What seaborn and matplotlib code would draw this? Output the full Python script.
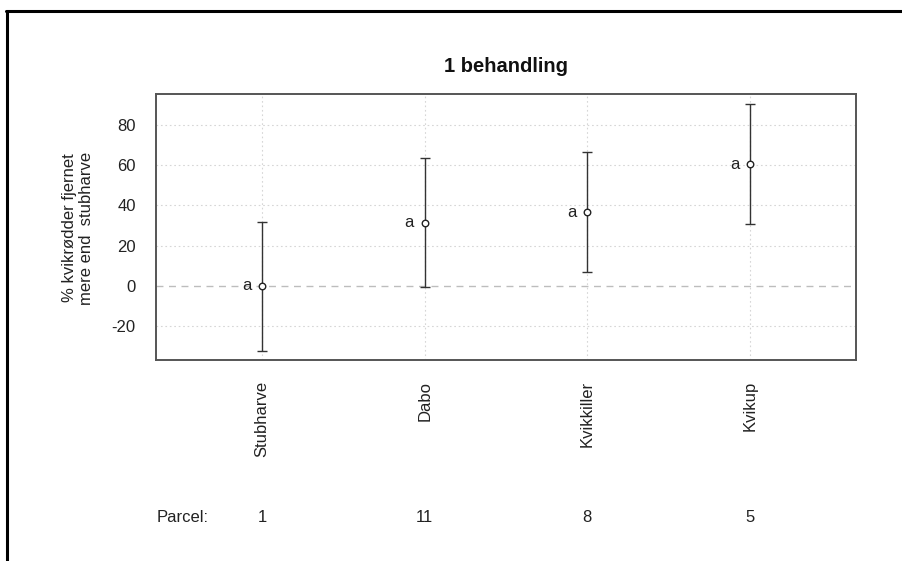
import matplotlib
matplotlib.use("Agg")
import numpy as np
import pandas as pd
import matplotlib.pyplot as plt
import matplotlib.transforms as mtransforms
from matplotlib.lines import Line2D
import seaborn as sns

# values
treatments = ["Stubharve", "Dabo", "Kvikkiller", "Kvikup"]
means = [0.0, 31.4, 36.6, 60.6]
lower = [-32.2, -0.5, 6.9, 30.8]
upper = [31.8, 63.5, 66.7, 90.4]
letters = ["a", "a", "a", "a"]
parcels = ["1", "11", "8", "5"]
yticks = [-20, 0, 20, 40, 60, 80]

df = pd.DataFrame({"treatment": treatments, "mean": means, "lo": lower, "hi": upper})

sns.set_style("white")
plt.rcParams["font.family"] = ["Liberation Sans", "DejaVu Sans"]
fs = 12

fig = plt.figure(figsize=(9.02, 5.61), dpi=100)
ax = fig.add_axes([156 / 902, 1 - 360 / 561, 700 / 902, 266 / 561])

xs = np.arange(len(treatments))

# grid first so it sits underneath
for y in yticks:
    if y != 0:
        ax.axhline(y, color="#d6d6d6", lw=0.8, ls=(0, (1.5, 2.5)), zorder=0)
for x in xs:
    ax.axvline(x, color="#d6d6d6", lw=0.8, ls=(0, (1.5, 2.5)), zorder=0)
ax.axhline(0, color="#bdbdbd", lw=1.0, ls=(0, (5, 4)), zorder=0)

ax.errorbar(xs, df["mean"], yerr=[df["mean"] - df["lo"], df["hi"] - df["mean"]],
            fmt="none", ecolor="#333333", elinewidth=1.0, capsize=3.6, capthick=1.0, zorder=2)
sns.scatterplot(data=df, x="treatment", y="mean", ax=ax, marker="o", s=22,
                facecolor="white", edgecolor="#222222", linewidth=1.0, zorder=3)

for x, m, l in zip(xs, means, letters):
    ax.annotate(l, (x, m), xytext=(-11, 0), textcoords="offset points",
                ha="center", va="center", fontsize=fs, color="#222222")

ax.set_xlim(-0.651, 3.651)
ax.set_ylim(-36.8, 95.4)
ax.set_yticks(yticks)
ax.set_yticklabels([str(v) for v in yticks])
ax.set_xticks(xs)
ax.set_xticklabels(treatments, rotation=90, va="top")
ax.set_xlabel("")
ax.set_ylabel("")
ax.tick_params(axis="both", direction="out", length=5, width=1.0, color="#444444",
               labelcolor="#222222", labelsize=fs)
ax.tick_params(axis="y", pad=9.5)
ax.tick_params(axis="x", pad=10)

for sp in ax.spines.values():
    sp.set_visible(True)
    sp.set_color("#555555")
    sp.set_linewidth(1.4)

ax.set_title("1 behandling", fontsize=14.5, fontweight="bold", pad=16, color="#111111")

fig.text(78 / 902, 1 - 228 / 561, "% kvikrødder fjernet\nmere end  stubharve",
         rotation=90, ha="center", va="center", fontsize=fs, color="#222222",
         multialignment="center", linespacing=1.1)

# parcel row under the axis
trans = mtransforms.blended_transform_factory(ax.transData, fig.transFigure)
ypar = 1 - 517 / 561
ax.text(-0.49, ypar, "Parcel:", transform=trans, ha="center", va="center",
        fontsize=fs, color="#222222")
for x, p in zip(xs, parcels):
    ax.text(x, ypar, p, transform=trans, ha="center", va="center",
            fontsize=fs, color="#222222")

# outer frame (top and left edges)
fig.add_artist(Line2D([6.5 / 902, 6.5 / 902], [0, 1 - 10.5 / 561], color="black",
                      lw=2.2, transform=fig.transFigure))
fig.add_artist(Line2D([5.5 / 902, 1], [1 - 10.5 / 561, 1 - 10.5 / 561], color="black",
                      lw=2.2, transform=fig.transFigure))

fig.savefig("out.png", dpi=100)
